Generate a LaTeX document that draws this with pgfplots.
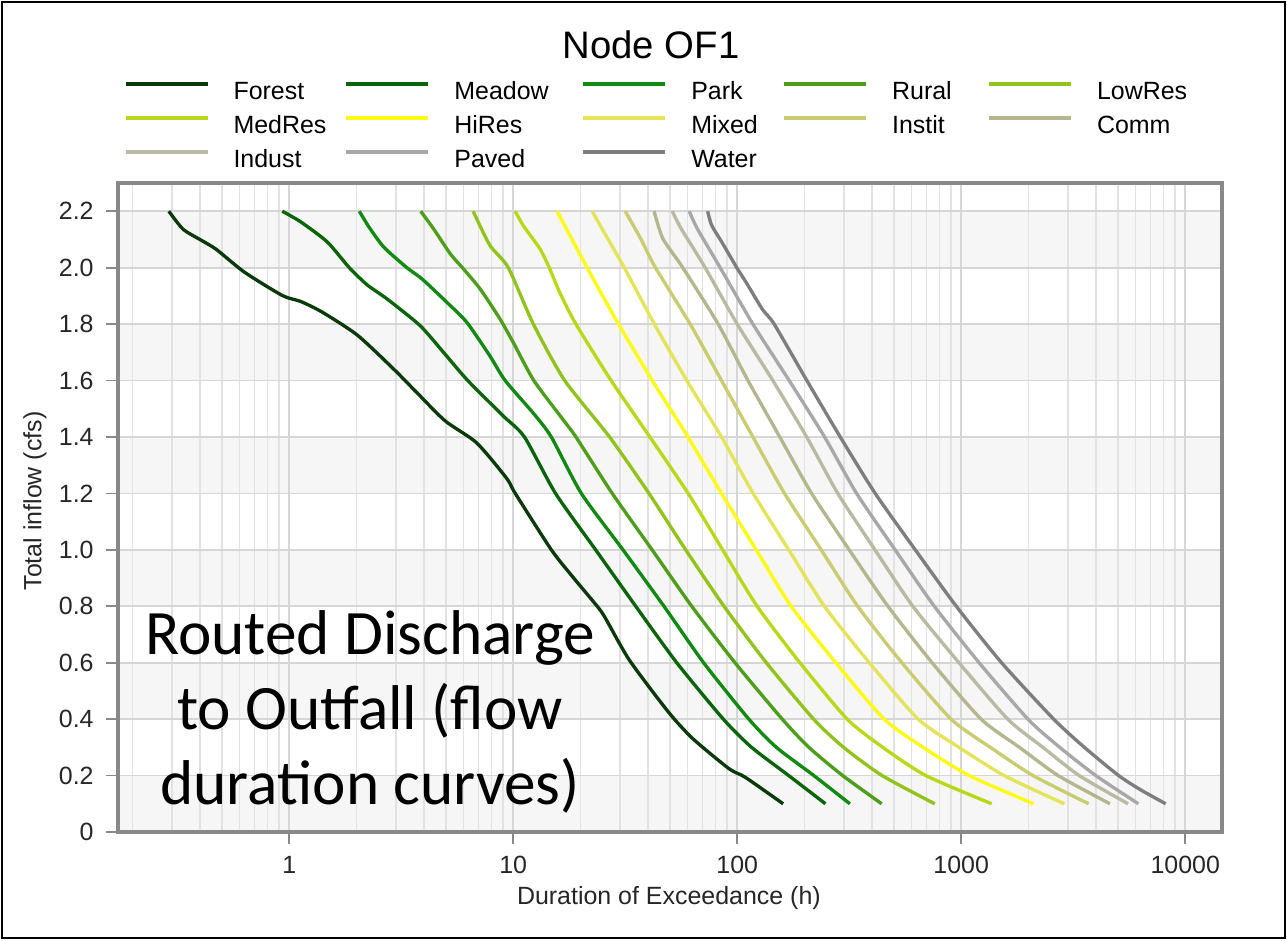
\documentclass[border=0pt]{standalone}
\usepackage{pgfplots}
\pgfplotsset{compat=1.18}
\usepackage{fontspec}
\setmainfont{Liberation Sans}
\newfontfamily\carlito{Carlito}
\definecolor{cForest}{HTML}{0A3A0A}
\definecolor{cMeadow}{HTML}{0A640A}
\definecolor{cPark}{HTML}{108A10}
\definecolor{cRural}{HTML}{4D9E1A}
\definecolor{cLowRes}{HTML}{90C41C}
\definecolor{cMedRes}{HTML}{B8D81A}
\definecolor{cHiRes}{HTML}{FBFB14}
\definecolor{cMixed}{HTML}{E4E45A}
\definecolor{cInstit}{HTML}{C9CC70}
\definecolor{cComm}{HTML}{B6B68E}
\definecolor{cIndust}{HTML}{BABAA2}
\definecolor{cPaved}{HTML}{A8A8A8}
\definecolor{cWater}{HTML}{7E7E7E}
\definecolor{bandgray}{HTML}{F6F6F6}
\definecolor{gridmaj}{HTML}{D6D6D6}
\definecolor{gridmin}{HTML}{E2E2E2}
\definecolor{axisgray}{HTML}{888888}
\begin{document}
\begin{tikzpicture}
\begin{axis}[
  at={(1.18cm,1.08cm)}, anchor=south west,
  scale only axis, width=11.04cm, height=6.49cm,
  set layers,
  xmode=log, xmin=0.172, xmax=14600, ymin=0, ymax=2.3,
  xtick={1,10,100,1000,10000}, xticklabels={1,10,100,1000,10000},
  minor xtick={0.2,0.3,0.4,0.5,0.6,0.7,0.8,0.9,2,3,4,5,6,7,8,9,20,30,40,50,60,70,80,90,200,300,400,500,600,700,800,900,2000,3000,4000,5000,6000,7000,8000,9000},
  ytick={0,0.2,0.4,0.6,0.8,1.0,1.2,1.4,1.6,1.8,2.0,2.2},
  yticklabels={0,0.2,0.4,0.6,0.8,1.0,1.2,1.4,1.6,1.8,2.0,2.2},
  xmajorgrids, xminorgrids, ymajorgrids,
  major grid style={color=gridmaj, line width=0.5pt},
  minor grid style={color=gridmin, line width=0.45pt},
  axis line style={color=axisgray, line width=0.9pt},
  tick style={color=axisgray, line width=0.5pt},
  tick align=outside, major tick length=0.12cm, minor tick length=0pt,
  tick pos=left,
  /pgf/number format/assume math mode=true,
  ticklabel style={font=\fontsize{7.1}{8}\selectfont, text=black!85},
  xlabel={Duration of Exceedance (h)},
  ylabel={Total inflow (cfs)},
  label style={font=\fontsize{7.1}{8}\selectfont, text=black!85},
  xlabel style={at={(axis description cs:0.499,-0.1017)}, anchor=center},
  ylabel style={at={(axis description cs:-0.0752,0.51)}, anchor=center},
  every axis plot/.append style={line width=0.95pt, line join=round, smooth, tension=0.4},
  no markers,
  legend columns=5,
  legend image code/.code={\draw[#1, line width=1.1pt, sharp plot] (0cm,0.09cm) -- (0.82cm,0.09cm);},
  legend cell align=left,
  legend style={at={(0.0045,1.157)}, anchor=north west, draw=none, fill=none,
    inner sep=0pt, column sep=0.24cm, row sep=0.11cm,
    font=\fontsize{7.1}{8}\selectfont,
    nodes={inner sep=0pt, text height=0.18cm, text depth=0.05cm, align=left}},
]
\begin{pgfonlayer}{axis background}
\fill[bandgray] (axis cs:0.172,0) rectangle (axis cs:14600,0.2);
\fill[bandgray] (axis cs:0.172,0.4) rectangle (axis cs:14600,0.6);
\fill[bandgray] (axis cs:0.172,0.8) rectangle (axis cs:14600,1.0);
\fill[bandgray] (axis cs:0.172,1.2) rectangle (axis cs:14600,1.4);
\fill[bandgray] (axis cs:0.172,1.6) rectangle (axis cs:14600,1.8);
\fill[bandgray] (axis cs:0.172,2.0) rectangle (axis cs:14600,2.2);
\end{pgfonlayer}

\addplot[cForest] coordinates {(0.290,2.2) (0.336,2.136) (0.405,2.097) (0.472,2.065) (0.631,1.984) (0.933,1.901) (1.127,1.880) (1.406,1.842) (2.014,1.761) (2.931,1.640) (3.715,1.557) (4.966,1.457) (6.871,1.379) (9.333,1.254) (10.21,1.2) (14.8,1.0) (18.62,0.9) (23.71,0.8) (25.70,0.76) (32.96,0.61) (49.09,0.427) (63.10,0.332) (92.04,0.224) (108.6,0.194) (160.3,0.1)};
\addlegendentry[text width=0.87cm]{Forest}
\addplot[cMeadow] coordinates {(0.931,2.2) (1.127,2.162) (1.479,2.091) (1.854,2.0) (2.228,1.939) (2.735,1.889) (3.846,1.794) (4.966,1.693) (6.266,1.6) (9.036,1.474) (11.22,1.4) (15.45,1.2) (23.33,1.0) (35.24,0.8) (53.70,0.6) (86.70,0.4) (115.9,0.3) (169.8,0.2) (247.7,0.1)};
\addlegendentry[text width=1.03cm]{Meadow}
\addplot[cPark] coordinates {(2.056,2.2) (2.270,2.144) (2.642,2.073) (3.350,2.0) (3.917,1.96) (5.058,1.877) (6.209,1.806) (7.870,1.687) (9.204,1.6) (12.27,1.485) (14.79,1.4) (20.14,1.2) (30.90,1.0) (47.10,0.8) (70.79,0.6) (112.7,0.4) (149.6,0.3) (219.8,0.2) (318.4,0.1)};
\addlegendentry[text width=0.67cm]{Park}
\addplot[cRural] coordinates {(3.864,2.2) (4.406,2.138) (5.236,2.049) (5.929,2.0) (7.112,1.925) (8.730,1.818) (10.0,1.735) (12.36,1.6) (16.67,1.462) (19.05,1.4) (27.67,1.2) (41.69,1.0) (62.66,0.8) (97.72,0.6) (158.9,0.4) (208.9,0.3) (295.8,0.2) (441.6,0.1)};
\addlegendentry[text width=0.71cm]{Rural}
\addplot[cLowRes] coordinates {(6.622,2.2) (7.870,2.079) (9.506,2.0) (12.30,1.8) (16.98,1.6) (26.92,1.4) (40.36,1.2) (58.88,1.0) (87.30,0.8) (134.9,0.6) (219.3,0.4) (298.5,0.3) (443.6,0.2) (762.1,0.1)};
\addlegendentry[text width=0.9cm]{LowRes}
\addplot[cMedRes] coordinates {(10.21,2.2) (11.07,2.15) (13.15,2.067) (14.49,2.0) (16.11,1.913) (19.05,1.8) (27.35,1.6) (40.74,1.4) (60.39,1.2) (86.10,1.0) (122.7,0.8) (190.5,0.6) (309.7,0.4) (446.7,0.3) (695.0,0.2) (1368,0.1)};
\addlegendentry[text width=0.87cm]{MedRes}
\addplot[cHiRes] coordinates {(15.70,2.2) (21.38,2.0) (29.51,1.8) (41.78,1.6) (60.26,1.4) (85.11,1.2) (121.6,1.0) (174.2,0.8) (275.4,0.6) (452.9,0.4) (676.1,0.3) (1086,0.2) (2104,0.1)};
\addlegendentry[text width=1.03cm]{HiRes}
\addplot[cMixed] coordinates {(22.54,2.2) (24.43,2.15) (31.33,2.0) (42.66,1.8) (59.57,1.6) (85.11,1.4) (117.8,1.2) (169.8,1.0) (244.9,0.8) (389.0,0.6) (642.7,0.4) (977.2,0.3) (1556,0.2) (2884,0.1)};
\addlegendentry[text width=0.67cm]{Mixed}
\addplot[cInstit] coordinates {(31.62,2.2) (37.07,2.103) (43.15,2.0) (61.66,1.8) (85.11,1.6) (117.5,1.4) (162.6,1.2) (237.1,1.0) (345.1,0.8) (543.3,0.6) (901.6,0.4) (1349,0.3) (2094,0.2) (3707,0.1)};
\addlegendentry[text width=0.71cm]{Instit}
\addplot[cComm] coordinates {(42.56,2.2) (46.56,2.103) (57.15,2.0) (82.22,1.8) (111.7,1.6) (154.9,1.4) (214.8,1.2) (316.2,1.0) (471.0,0.8) (741.3,0.6) (1227,0.4) (1820,0.3) (2710,0.2) (4613,0.1)};
\addlegendentry[text width=0.9cm]{Comm}
\addplot[cIndust] coordinates {(51.29,2.2) (56.23,2.138) (71.94,2.0) (100,1.8) (144.2,1.6) (204.2,1.4) (281.2,1.2) (412.1,1.0) (608.1,0.8) (977.2,0.6) (1614,0.4) (2317,0.3) (3365,0.2) (5559,0.1)};
\addlegendentry[text width=0.87cm]{Indust}
\addplot[cPaved] coordinates {(61.09,2.2) (66.37,2.138) (83.95,2.0) (117.5,1.8) (170.6,1.6) (245.5,1.4) (341.2,1.2) (507.0,1.0) (758.6,0.8) (1202,0.6) (1986,0.4) (2754,0.3) (3990,0.2) (6180,0.1)};
\addlegendentry[text width=1.03cm]{Paved}
\addplot[cWater] coordinates {(73.79,2.2) (76.91,2.15) (85.31,2.091) (99.54,2.0) (109.6,1.948) (129.4,1.853) (146.2,1.8) (204.6,1.6) (288.4,1.4) (413.0,1.2) (623.7,1.0) (950.6,0.8) (1514,0.6) (2588,0.4) (3548,0.3) (5047,0.2) (6310,0.15) (8185,0.1)};
\addlegendentry[text width=0.67cm]{Water}
\end{axis}
\node[font=\fontsize{10.9}{12}\selectfont, anchor=center] at (6.51,8.95) {Node OF1};
\node[font=\carlito\fontsize{18}{21.3}\selectfont, align=center, anchor=center] at (3.70,2.28) {Routed Discharge\\to Outfall (flow\\duration curves)};
\draw[black, line width=0.6pt] (0.02,0.02) rectangle (12.85,9.38);
\path (0,0) rectangle (12.87,9.40);
\end{tikzpicture}
\end{document}
